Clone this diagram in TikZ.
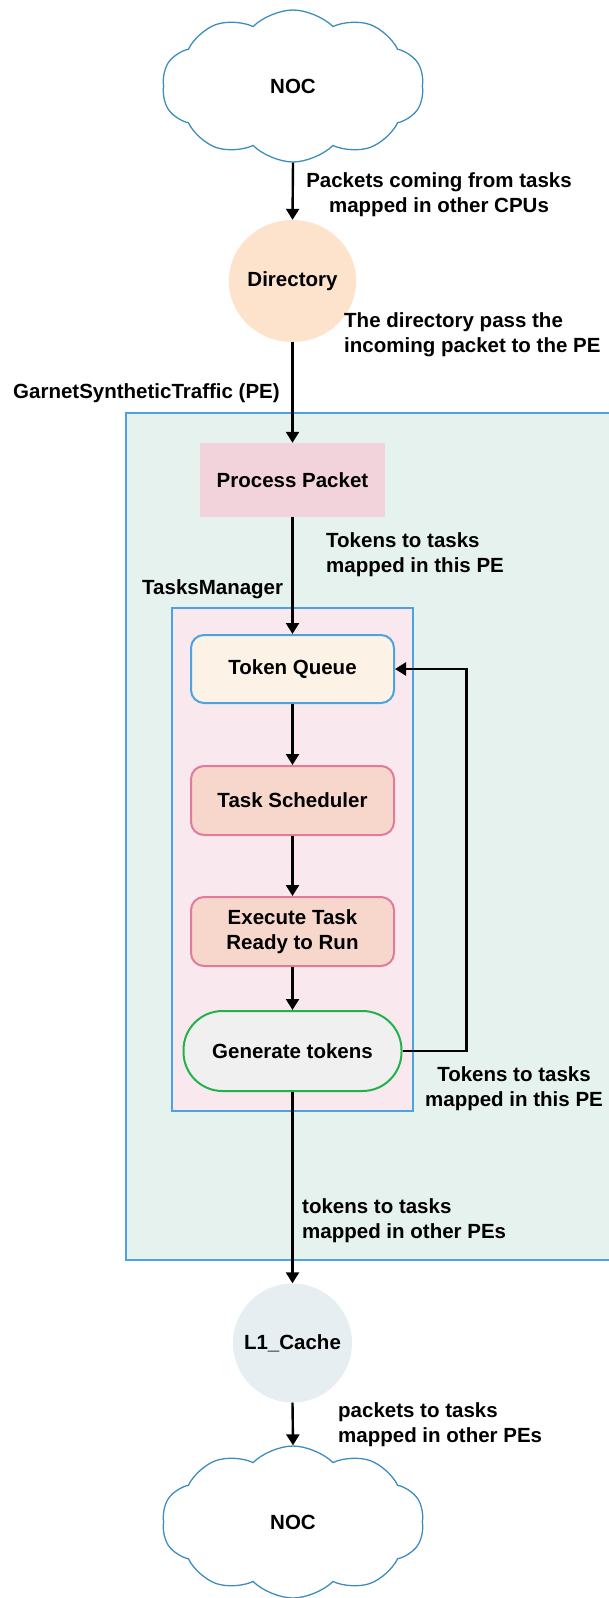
\documentclass[tikz,border=0pt]{standalone}
\usepackage{fontspec}
\setmainfont{Liberation Sans}
\usetikzlibrary{shapes.symbols,shapes.geometric,arrows.meta}
\definecolor{cloudblue}{HTML}{3D8DBD}
\definecolor{dirfill}{HTML}{FDE2CC}
\definecolor{pefill}{HTML}{E6F2EE}
\definecolor{boxblue}{HTML}{4BA3E3}
\definecolor{procfill}{HTML}{F2D3DB}
\definecolor{tmfill}{HTML}{F9E9EF}
\definecolor{tqfill}{HTML}{FDF2E6}
\definecolor{salfill}{HTML}{F7D7CB}
\definecolor{pinkline}{HTML}{E17A9B}
\definecolor{gtfill}{HTML}{EFF0EF}
\definecolor{gtline}{HTML}{22B24C}
\definecolor{lonefill}{HTML}{E7EEF2}
\begin{document}
\begin{tikzpicture}[x=1pt,y=-1pt,
  font=\fontsize{20.5}{25}\selectfont\bfseries,
  noccloud/.style={cloud, draw=cloudblue, line width=1.3pt, fill=white, cloud puffs=10, cloud puff arc=90, shape border rotate=18, cloud ignores aspect, minimum width=262pt, minimum height=152pt, inner sep=0pt},
  rbox/.style={rectangle, rounded corners=13pt, line width=2pt, minimum width=203pt, minimum height=68pt, align=center, inner sep=0pt},
  lbl/.style={inner sep=0pt},
  arr/.style={line width=2.4pt, -{Triangle[length=11pt,width=13pt]}},
  frame/.style={line width=2.4pt, draw=boxblue}
]
\useasboundingbox (0,0) rectangle (609,1598);
\clip (0,0) rectangle (609,1598);
% containers
\draw[frame, fill=pefill] (126,413) rectangle (640,1260);
\draw[frame, line width=2pt, fill=tmfill] (172,608) rectangle (413,1111);
% nodes
\node[noccloud] (noc1) at (293,86) {NOC};
\node[ellipse, fill=dirfill, minimum width=118pt, minimum height=122pt, inner sep=0pt] (dir) at (292.5,281) {Directory};
\node[rectangle, fill=procfill, minimum width=185pt, minimum height=74pt, inner sep=0pt] (proc) at (292.5,480) {Process Packet};
\node[rbox, draw=boxblue, fill=tqfill] (tq) at (292.5,669) {Token Queue};
\node[rbox, draw=pinkline, fill=salfill, minimum height=69pt] (ts) at (292.5,800.5) {Task Scheduler};
\node[rbox, draw=pinkline, fill=salfill, minimum height=69pt] (et) at (292.5,931.5) {Execute Task\\Ready to Run};
\node[rectangle, rounded corners=39pt, line width=2pt, draw=gtline, fill=gtfill, minimum width=218pt, minimum height=80pt, inner sep=0pt] (gt) at (292.5,1051) {Generate tokens};
\node[circle, fill=lonefill, minimum size=119pt, inner sep=0pt] (l1) at (292.5,1343) {L1\_Cache};
\node[noccloud] (noc2) at (293,1522) {NOC};
% labels
\node[lbl, align=center] (lpk) at (439,195) {Packets coming from tasks\\mapped in other CPUs};
\node[lbl, align=left, anchor=west] (ldir) at (344,335) {The directory pass the\\incoming packet to the PE};
\node[lbl, anchor=west] (lpe) at (13,393) {GarnetSyntheticTraffic (PE)};
\node[lbl, align=left, anchor=west] (ltok) at (326,555) {Tokens to tasks\\mapped in this PE};
\node[lbl, anchor=west] (ltm) at (142,589) {TasksManager};
\node[lbl, align=center] (lloop) at (514,1089) {Tokens to tasks\\mapped in this PE};
\node[lbl, align=left, anchor=west] (lother) at (302,1221) {tokens to tasks\\mapped in other PEs};
\node[lbl, align=left, anchor=west] (lpkt) at (338,1425) {packets to tasks\\mapped in other PEs};
% connectors
\draw[arr] (noc1.south) -- (dir.north);
\draw[arr] (dir.south) -- (proc.north);
\draw[arr] (proc.south) -- (tq.north);
\draw[arr] (tq.south) -- (ts.north);
\draw[arr] (ts.south) -- (et.north);
\draw[arr] (et.south) -- (gt.north);
\draw[arr] (gt.east) -- ++(64,0) |- (tq.east);
\draw[arr] (gt.south) -- (l1.north);
\draw[arr] (l1.south) -- (noc2.north);
\end{tikzpicture}
\end{document}
